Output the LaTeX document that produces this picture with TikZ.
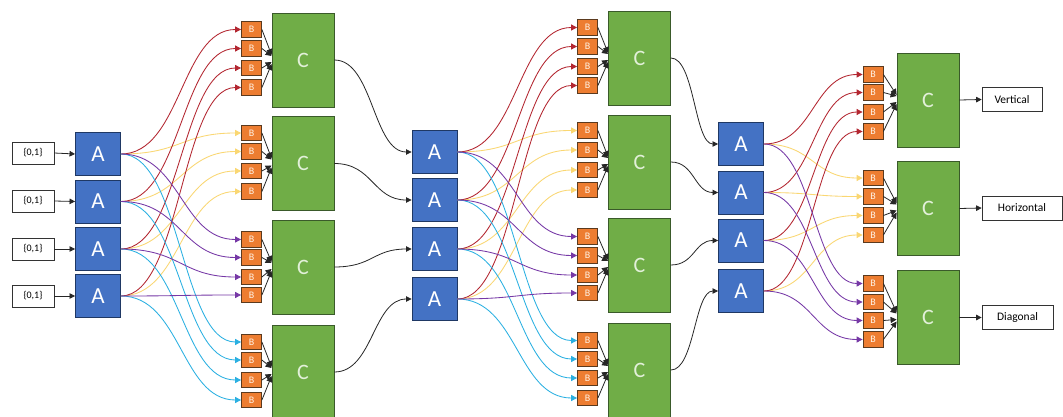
\documentclass[tikz,border=0pt]{standalone}
\usepackage{fontspec}
\setmainfont{Carlito}
\usetikzlibrary{arrows.meta,calc}

\definecolor{ablue}{HTML}{4472C4}
\definecolor{aedge}{HTML}{1F3864}
\definecolor{borange}{HTML}{ED7D31}
\definecolor{bedge}{HTML}{5B3A1E}
\definecolor{cgreen}{HTML}{70AD47}
\definecolor{cedge}{HTML}{3A5A2A}
\definecolor{ctext}{HTML}{E2F0D9}
\definecolor{lred}{HTML}{B32630}
\definecolor{lyel}{HTML}{FAD772}
\definecolor{lpur}{HTML}{7638A6}
\definecolor{lcya}{HTML}{2AB0E2}

\tikzset{
  abox/.style={fill=ablue, draw=aedge, line width=0.9pt, minimum width=45pt,
    minimum height=43pt, inner sep=0pt, text=white,
    font=\fontsize{23}{23}\selectfont},
  bbox/.style={fill=borange, draw=bedge, line width=0.8pt, minimum width=20pt,
    minimum height=15.5pt, inner sep=0pt, text=white!90!orange,
    font=\fontsize{10}{10}\selectfont},
  cbox/.style={fill=cgreen, draw=cedge, line width=0.8pt, minimum width=62pt,
    minimum height=94pt, inner sep=0pt, text=ctext,
    font=\fontsize{22}{22}\selectfont},
  lbox/.style={fill=white, draw=black!80, line width=0.7pt, minimum height=24pt,
    inner sep=0pt, font=\fontsize{11.5}{11.5}\selectfont},
  sbend/.style={to path={let \p1=(\tikztostart), \p2=(\tikztotarget) in
    .. controls ({0.5*\x1+0.5*\x2},\y1) and ({0.5*\x1+0.5*\x2},\y2)
    .. (\tikztotarget) \tikztonodes}},
  colarrow/.style={line width=0.85pt, -{Triangle[length=6pt,width=6pt]}},
  blkarrow/.style={line width=0.8pt, black!85, -{Triangle[length=6pt,width=6pt]}},
  feed/.style={line width=0.8pt, black!85, -{Triangle[length=5.5pt,width=5.5pt]}}
}

\begin{document}
\begin{tikzpicture}[x=1pt,y=-1pt]
\useasboundingbox (0,0) rectangle (1063,417);
\fill[white] (0,0) rectangle (1063,417);

% ---------- inputs ----------
\foreach \y [count=\i] in {153,201,249,296}
  \node[lbox, minimum width=42pt, minimum height=22pt, font=\fontsize{10}{10}\selectfont] (in-\i) at (33,\y) {\{0,1\}};

% ---------- stage 1 ----------
\foreach \y [count=\i] in {154,201.5,249,296}
  \node[abox] (a1-\i) at (98,\y) {A};
\foreach \g/\ys in {1/{29.5,48.5,68,87.5},2/{133,151.5,171,191.5},
                   3/{239.5,257.5,277,295},4/{342,360,380,400}}
  \foreach \y [count=\k] in \ys
    \node[bbox] (b1-\g-\k) at (251.5,\y) {B};
\foreach \y [count=\g] in {60,163.5,267,372}
  \node[cbox] (c1-\g) at (303,\y) {C};

% ---------- stage 2 ----------
\foreach \y [count=\i] in {152,200,249,299}
  \node[abox] (a2-\i) at (434.5,\y) {A};
\foreach \g/\ys in {1/{27.5,46.5,66.5,85.5},2/{130.5,150,170,190},
                   3/{236.5,255.5,275,293},4/{340.5,359,378,398}}
  \foreach \y [count=\k] in \ys
    \node[bbox] (b2-\g-\k) at (587.5,\y) {B};
\foreach \y [count=\g] in {58,162,265,370}
  \node[cbox] (c2-\g) at (639.5,\y) {C};

% ---------- stage 3 ----------
\foreach \y [count=\i] in {144,192.5,240.5,291}
  \node[abox] (a3-\i) at (741,\y) {A};
\foreach \g/\ys in {1/{74.5,92.5,112,131.5},2/{178,196.5,215.5,235},
                   3/{283.5,302,320.5,339.5}}
  \foreach \y [count=\k] in \ys
    \node[bbox] (b3-\g-\k) at (873,\y) {B};
\foreach \y [count=\g] in {100,208.5,317.5}
  \node[cbox] (c3-\g) at (928,\y) {C};

% ---------- outputs ----------
\node[lbox, minimum width=60pt] (out-1) at (1012,99.5) {Vertical};
\node[lbox, minimum width=80pt] (out-2) at (1022,208) {Horizontal};
\node[lbox, minimum width=71pt] (out-3) at (1017.5,317.5) {Diagonal};

% ---------- connectors ----------
\foreach \i in {1,...,4}
  \draw[feed] (in-\i.east) -- (a1-\i.west);

% A -> B fan-out
\foreach \s in {1,2}
  \foreach \g/\col in {2/lyel,1/lred,4/lcya,3/lpur}
    \foreach \i in {1,...,4}
      \draw[colarrow,\col] (a\s-\i.east) to[sbend] (b\s-\g-\i.west);
\foreach \g/\col in {2/lyel,1/lred,3/lpur}
  \foreach \i in {1,...,4}
    \draw[colarrow,\col] (a3-\i.east) to[sbend] (b3-\g-\i.west);

% B -> C merge
\foreach \s/\n in {1/4,2/4,3/3}
  \foreach \g in {1,...,\n}
    \foreach \k/\dy in {1/-5,2/-4,3/2,4/4}
      \draw[blkarrow] (b\s-\g-\k.east) -- ($(c\s-\g.west)+(0,\dy)$);

% C -> next A
\foreach \g in {1,...,4}
  \draw[feed] (c1-\g.east) to[sbend] (a2-\g.west);
\foreach \g in {1,...,4}
  \draw[feed] (c2-\g.east) to[sbend] (a3-\g.west);

% C -> outputs
\foreach \g in {1,2,3}
  \draw[feed] (c3-\g.east) -- (out-\g.west);
\end{tikzpicture}
\end{document}
